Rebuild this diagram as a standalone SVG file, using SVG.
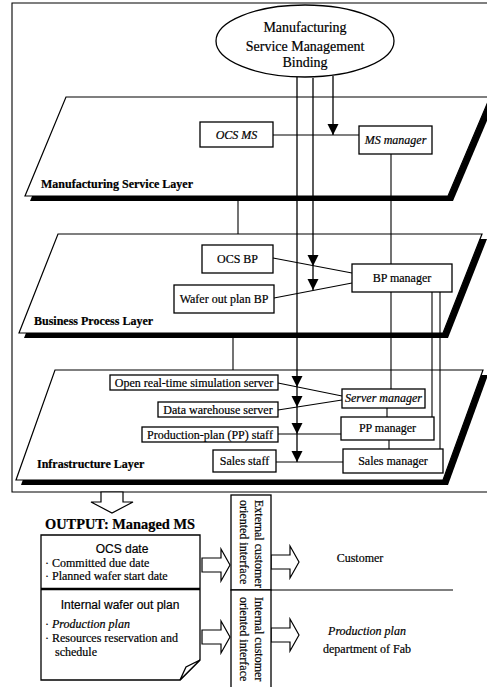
<svg xmlns="http://www.w3.org/2000/svg" width="487" height="687" viewBox="0 0 487 687">
<defs>
<style>
.t{font-family:"Liberation Serif","Times New Roman",serif;font-size:12px;fill:#000;stroke:#000;stroke-width:0.2}
.c{text-anchor:middle}
.b{font-weight:bold}
.i{font-style:italic}
.s{font-family:"Liberation Sans",Arial,sans-serif}
.big{font-size:14px}
.out{font-size:14.4px}
.box{fill:#fff;stroke:#000;stroke-width:1.3}
.ln{fill:none;stroke:#000;stroke-width:1.1}
.ar{fill:none;stroke:#000;stroke-width:1.3;marker-end:url(#ah)}
.lay{fill:#fff;stroke:#000;stroke-width:1.2}
.sh{fill:#000}
.ha{fill:#fff;stroke:#000;stroke-width:1.2}
</style>
<marker id="ah" markerUnits="userSpaceOnUse" markerWidth="12" markerHeight="12" refX="11" refY="5.5" orient="auto"><path d="M0,0 L11,5.5 L0,11 Z" fill="#000"/></marker>
<path id="harrow" d="M0,-7 H19 V-16 L28,0 L19,16 V7 H0 Z"/>
</defs>
<rect width="487" height="687" fill="#fff"/>
<path class="ln" d="M490,3 H12 V492 H490"/>

<g id="ms-layer">
<polygon class="sh" points="71,102 495,102 453,201 30,201"/>
<polygon class="lay" points="66,97 490,97 448,196 25,196"/>
<text class="t b" x="41" y="188">Manufacturing Service Layer</text>
</g>
<g id="bp-layer">
<polygon class="sh" points="63,239 487,239 448,338 24,338"/>
<polygon class="lay" points="58,234 482,234 443,333 19,333"/>
<text class="t b" x="34" y="325">Business Process Layer</text>
</g>
<g id="infra-layer">
<polygon class="sh" points="60,375 488,375 448,485 21,485"/>
<polygon class="lay" points="55,370 483,370 443,480 16,480"/>
<text class="t b" x="37" y="468">Infrastructure Layer</text>
</g>

<g id="connectors">
<path class="ar" d="M297,77 V387"/>
<path class="ar" d="M297,387 V407"/>
<path class="ar" d="M297,407 V434"/>
<path class="ar" d="M297,434 V462"/>
<path class="ar" d="M313,78 V266"/>
<path class="ar" d="M313,266 V290"/>
<path class="ar" d="M333,76 V135"/>
<path class="ln" d="M273,135 H359"/>
<path class="ln" d="M238,201 V234 M233,338 V370"/>
<path class="ln" d="M391,154 V264 M391,292 V389 M432,292 V417 M440,292 V449"/>
<path class="ln" d="M387,408 V417 M389,440 V449"/>
<path class="ln" d="M273,258 L352,273 M274,298 L352,283"/>
<path class="ln" d="M278,383 L342,396 M278,410 L342,400 M278,434 H341 M276,462 H343"/>
<path class="ln" d="M271,590 H453"/>
<path class="ha" d="M101,492 H123 V502 H133 L112,513 L91,502 H101 Z"/>
<use href="#harrow" class="ha" transform="translate(202,565)"/>
<use href="#harrow" class="ha" transform="translate(202,637)"/>
<use href="#harrow" class="ha" transform="translate(271,562)"/>
<use href="#harrow" class="ha" transform="translate(271,635)"/>
</g>

<g id="msm-binding">
<ellipse class="box" cx="305" cy="41" rx="89" ry="36"/>
<text class="t c big" x="305" y="32">Manufacturing</text>
<text class="t c big" x="305" y="51">Service Management</text>
<text class="t c big" x="305" y="67">Binding</text>
</g>
<g id="ocs-ms"><rect class="box" x="200" y="122" width="73" height="25"/><text class="t c i" x="236.5" y="139">OCS MS</text></g>
<g id="ms-manager"><rect class="box" x="359" y="126" width="73" height="28"/><text class="t c i" x="395.5" y="144">MS manager</text></g>
<g id="ocs-bp"><rect class="box" x="202" y="245" width="71" height="28"/><text class="t c" x="237.5" y="263">OCS BP</text></g>
<g id="wafer-bp"><rect class="box" x="174" y="285" width="100" height="28"/><text class="t c" x="224" y="303">Wafer out plan BP</text></g>
<g id="bp-manager"><rect class="box" x="352" y="264" width="100" height="28"/><text class="t c" x="402" y="282">BP manager</text></g>
<g id="sim-server"><rect class="box" x="110" y="375" width="168" height="15"/><text class="t c" x="194" y="386.5">Open real-time simulation server</text></g>
<g id="dw-server"><rect class="box" x="158" y="402" width="120" height="15"/><text class="t c" x="218" y="413.5">Data warehouse server</text></g>
<g id="pp-staff"><rect class="box" x="142" y="427" width="136" height="15"/><text class="t c" x="210" y="438.5">Production-plan (PP) staff</text></g>
<g id="sales-staff"><rect class="box" x="213" y="450" width="63" height="22"/><text class="t c" x="244.5" y="465">Sales staff</text></g>
<g id="server-manager"><rect class="box" x="342" y="389" width="83" height="19"/><text class="t c i" x="383.5" y="402">Server manager</text></g>
<g id="pp-manager"><rect class="box" x="341" y="417" width="93" height="23"/><text class="t c" x="387.5" y="432">PP manager</text></g>
<g id="sales-manager"><rect class="box" x="343" y="449" width="100" height="24"/><text class="t c" x="393" y="465">Sales manager</text></g>

<g id="output">
<text class="t b out" x="45" y="529">OUTPUT: Managed MS</text>
<path class="box" d="M41,535 H200 V660 L180,680 H41 Z"/>
<path class="box" d="M180,680 L186,667 L200,660 Z"/>
<path d="M41,589 H200" stroke="#000" stroke-width="2.5"/>
<text class="t s c" x="122" y="553">OCS date</text>
<text class="t" x="45" y="567">· Committed due date</text>
<text class="t" x="45" y="580">· Planned wafer start date</text>
<text class="t s c" x="120" y="609">Internal wafer out plan</text>
<text class="t" x="45" y="628">· <tspan class="i">Production plan</tspan></text>
<text class="t" x="45" y="642">· Resources reservation and</text>
<text class="t" x="55" y="656">schedule</text>
</g>
<g id="ext-interface">
<rect class="box" x="231" y="495" width="40" height="95"/>
<text class="t" transform="translate(255,500) rotate(90)">External customer</text>
<text class="t" transform="translate(240,500) rotate(90)">oriented interface</text>
</g>
<g id="int-interface">
<rect class="box" x="231" y="590" width="40" height="100"/>
<text class="t" transform="translate(255,597) rotate(90)">Internal customer</text>
<text class="t" transform="translate(240,597) rotate(90)">oriented interface</text>
</g>
<g id="customer"><text class="t c" x="360" y="562">Customer</text></g>
<g id="pp-dept">
<text class="t c i" x="367" y="635">Production plan</text>
<text class="t c" x="367" y="653">department of Fab</text>
</g>
</svg>
